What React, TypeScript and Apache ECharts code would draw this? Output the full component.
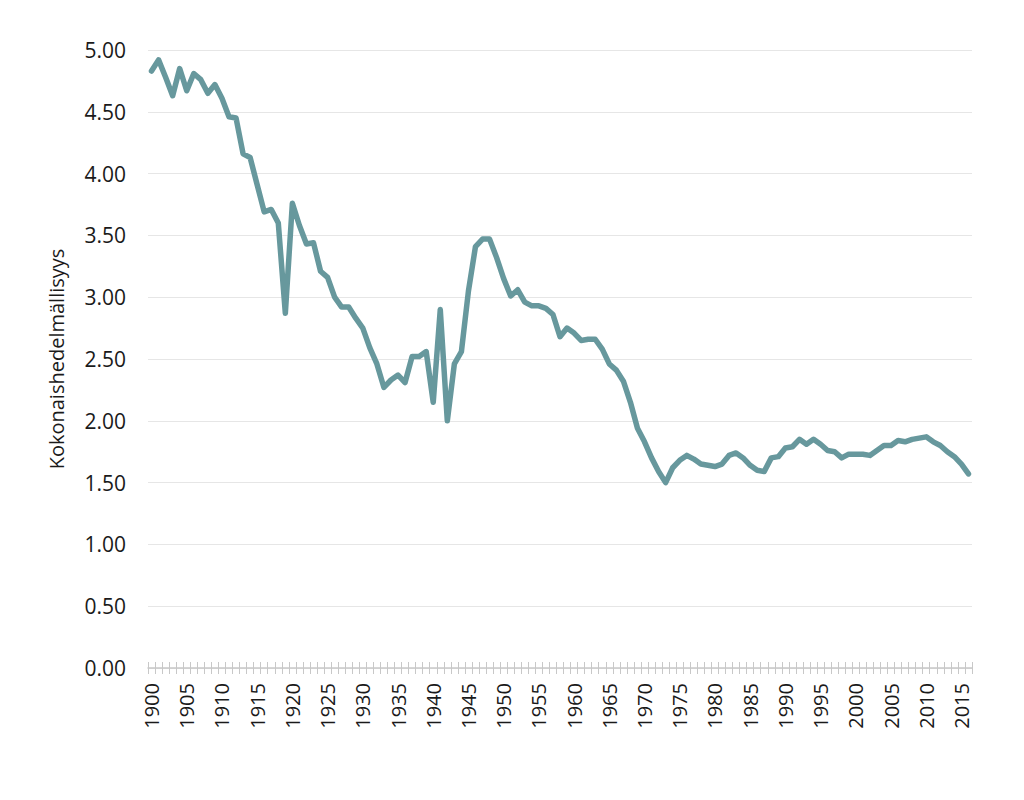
import React, { useEffect, useRef } from "react";
import * as echarts from "echarts";

const years: string[] = [];
for (let y = 1900; y <= 2016; y++) years.push(String(y));

const fertility = [
  4.83, 4.92, 4.78, 4.63, 4.85, 4.67, 4.81, 4.76, 4.65, 4.72,
  4.61, 4.46, 4.45, 4.16, 4.13, 3.91, 3.69, 3.71, 3.60, 2.87,
  3.76, 3.58, 3.43, 3.44, 3.21, 3.16, 3.00, 2.92, 2.92, 2.83,
  2.75, 2.59, 2.46, 2.27, 2.33, 2.37, 2.31, 2.52, 2.52, 2.56,
  2.15, 2.90, 2.00, 2.46, 2.56, 3.05, 3.41, 3.47, 3.47, 3.32,
  3.15, 3.01, 3.06, 2.96, 2.93, 2.93, 2.91, 2.86, 2.68, 2.75,
  2.71, 2.65, 2.66, 2.66, 2.58, 2.46, 2.41, 2.32, 2.15, 1.94,
  1.83, 1.70, 1.59, 1.50, 1.62, 1.68, 1.72, 1.69, 1.65, 1.64,
  1.63, 1.65, 1.72, 1.74, 1.70, 1.64, 1.60, 1.59, 1.70, 1.71,
  1.78, 1.79, 1.85, 1.81, 1.85, 1.81, 1.76, 1.75, 1.70, 1.73,
  1.73, 1.73, 1.72, 1.76, 1.80, 1.80, 1.84, 1.83, 1.85, 1.86,
  1.87, 1.83, 1.80, 1.75, 1.71, 1.65, 1.57,
];

const yAxisName = "Kokonaishedelmällisyys";
const FONT = "Open Sans";

export default function App() {
  const ref = useRef<HTMLDivElement>(null);
  useEffect(() => {
    if (!ref.current) return;
    const chart = echarts.init(ref.current, undefined, { renderer: "svg" });
    chart.setOption({
      animation: false,
      backgroundColor: "#ffffff",
      grid: { left: 140, right: 44, top: 42, bottom: 124, containLabel: false },
      xAxis: [
        {
          type: "category",
          data: years,
          boundaryGap: true,
          position: "bottom",
          axisLine: { show: true, lineStyle: { color: "#c8c8c8", width: 1.5 } },
          axisTick: { show: true, interval: 0, length: 6, lineStyle: { color: "#c8c8c8" } },
          axisLabel: {
            interval: 4,
            rotate: 90,
            margin: 15,
            fontSize: 20,
            color: "#1a1a1a",
            fontFamily: FONT,
          },
          splitLine: { show: false },
        },
        {
          type: "category",
          data: years,
          boundaryGap: true,
          position: "bottom",
          offset: 0,
          axisLine: { show: false },
          axisTick: { show: true, inside: true, interval: 0, length: 6, lineStyle: { color: "#c8c8c8" } },
          axisLabel: { show: false },
          splitLine: { show: false },
        },
      ],
      yAxis: {
        type: "value",
        min: 0,
        max: 5,
        interval: 0.5,
        name: yAxisName,
        nameLocation: "middle",
        nameGap: 82,
        nameRotate: 90,
        nameTextStyle: { fontSize: 20, color: "#1a1a1a", fontFamily: FONT },
        axisLine: { show: false },
        axisTick: { show: false },
        axisLabel: {
          formatter: (v: number) => v.toFixed(2),
          fontSize: 21,
          color: "#1a1a1a",
          margin: 22,
          fontFamily: FONT,
        },
        splitLine: { show: true, lineStyle: { color: "#e6e6e6", width: 1 } },
      },
      series: [
        {
          type: "line",
          data: fertility,
          xAxisIndex: 0,
          symbol: "none",
          lineStyle: { color: "#67989d", width: 5.5, join: "round", cap: "round" },
        },
      ],
    });
    return () => chart.dispose();
  }, []);
  return <div ref={ref} style={{ width: 1008, height: 784 }} />;
}
